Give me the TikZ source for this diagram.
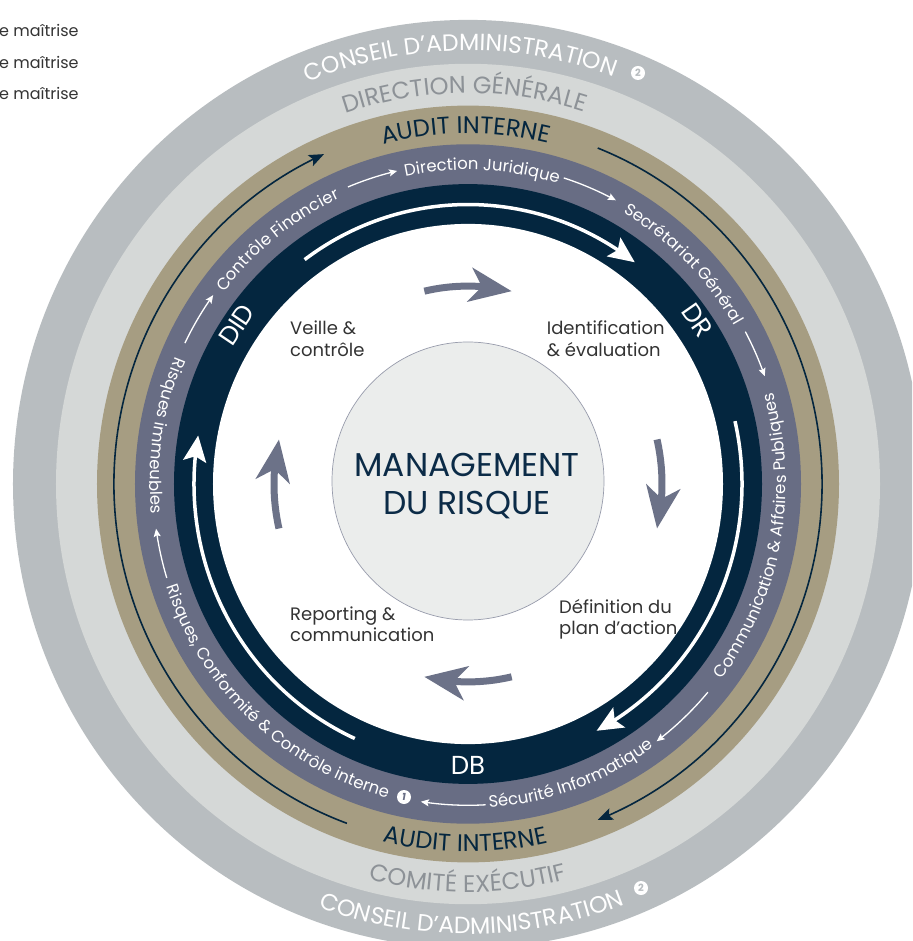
\documentclass[tikz,border=0pt]{standalone}
\usepackage{fontspec}
\setmainfont{Poppins}
\usetikzlibrary{arrows.meta,bending,decorations.text}
\definecolor{consgray}{HTML}{B8BDC0}
\definecolor{dggray}{HTML}{D5D8D7}
\definecolor{tanband}{HTML}{A69D82}
\definecolor{lav}{HTML}{686D84}
\definecolor{navy}{HTML}{04263F}
\definecolor{cfill}{HTML}{EBEDEC}
\definecolor{cyc}{HTML}{6C7288}
\definecolor{dgtext}{HTML}{8D9297}
\definecolor{tdark}{HTML}{333333}
\definecolor{ctext}{HTML}{0B2B47}
\newcommand\cwtext[4]{%
  \pgfmathsetmacro\rtA{#1+75}\pgfmathsetmacro\rtB{#1-75}\pgfmathsetmacro\rtY{1.02*#2}%
  \path[decorate,decoration={text along path,text align=center,text={|#3|#4}}]
    (\rtA:#2 and \rtY) arc[start angle=\rtA,end angle=\rtB,x radius=#2,y radius=\rtY];}
\newcommand\ccwtext[4]{%
  \pgfmathsetmacro\rtA{#1+75}\pgfmathsetmacro\rtB{#1-75}\pgfmathsetmacro\rtY{1.02*#2}%
  \path[decorate,decoration={text along path,text align=center,text={|#3|#4}}]
    (\rtB:#2 and \rtY) arc[start angle=\rtB,end angle=\rtA,x radius=#2,y radius=\rtY];}
\newcommand\bandfont{\fontsize{24}{24}\selectfont}
\newcommand\consfont{\fontsize{23.5}{23.5}\selectfont\color{white}}
\newcommand\deptfont{\fontsize{16.5}{16.5}\selectfont\color{white}}
\begin{document}
\begin{tikzpicture}[x=1pt,y=1pt,
  navyarc/.style={draw=navy,line width=1.6pt,-{Stealth[length=15pt,width=12pt,inset=3pt]}},
  whitearc/.style={draw=white,line width=3.5pt,-{Stealth[length=26pt,width=23pt,inset=5pt]}},
  smallarr/.style={draw=white,line width=1.3pt,-{Stealth[length=8pt,width=7pt,inset=1.5pt]}},
  cyclearr/.style={draw=cyc,line width=7pt,-{Stealth[length=42pt,width=34pt,inset=12pt]}},
  lbl/.style={font=\fontsize{18}{21.7}\selectfont,text=tdark,align=left,inner sep=0pt,anchor=base west},
  numc/.style={circle,fill=white,inner sep=0pt,minimum size=14pt,font=\fontsize{10}{10}\selectfont\bfseries},
  ringlbl/.style={text=white,font=\fontsize{26}{26}\selectfont,inner sep=0pt}]
\useasboundingbox (-468,-457) rectangle (444,484);
\begin{scope}
\clip (-468,-457) rectangle (444,484);
% rings
\fill[consgray] (0,0) circle[x radius=455,y radius=464.1];
\fill[dggray] (0,0) circle[x radius=412,y radius=420.2];
\fill[tanband] (0,0) circle[x radius=371,y radius=378.4];
\fill[lav] (0,0) circle[x radius=333,y radius=339.7];
\fill[navy] (0,0) circle[x radius=294,y radius=299.9];
\fill[white] (0,0) circle[x radius=255,y radius=260.1];
% legend
\node[font=\fontsize{16}{16}\selectfont,text=tdark,anchor=base west,inner sep=0pt] (lg1) at (-469,447.5) {e maîtrise};
\node[font=\fontsize{16}{16}\selectfont,text=tdark,anchor=base west,inner sep=0pt] (lg2) at (-469,415.5) {e maîtrise};
\node[font=\fontsize{16}{16}\selectfont,text=tdark,anchor=base west,inner sep=0pt] (lg3) at (-469,384) {e maîtrise};
% band texts
\cwtext{91}{425}{\consfont}{CONSEIL D’ADMINISTRATION}
\ccwtext{270.5}{441}{\consfont}{CONSEIL D’ADMINISTRATION}
\cwtext{90.5}{383}{\bandfont\color{dgtext}}{DIRECTION GÉNÉRALE}
\ccwtext{270}{400}{\bandfont\color{dgtext}}{COMITÉ EXÉCUTIF}
\cwtext{90.4}{343.5}{\bandfont\color{navy}}{AUDIT INTERNE}
\ccwtext{269.6}{360.5}{\bandfont\color{navy}}{AUDIT INTERNE}
\node[numc,text=consgray] (n2a) at (170,411) {2};
\node[numc,text=consgray] (n2b) at (173,-404) {2};
% thin navy arcs in audit band
\coordinate (na1) at (68.5:354 and 361.1);
\coordinate (na2) at (250:354 and 361.1);
\draw[navyarc] (na1) arc[start angle=68.5,end angle=-68.5,x radius=354,y radius=361.1];
\draw[navyarc] (na2) arc[start angle=250,end angle=114,x radius=354,y radius=361.1];
% department texts
\cwtext{128}{308}{\deptfont}{Contrôle Financier}
\cwtext{87.4}{308}{\deptfont}{Direction Juridique}
\cwtext{45.5}{308}{\deptfont}{Secrétariat Général}
\ccwtext{-10.5}{318}{\deptfont}{Communication {\&} Affaires Publiques}
\ccwtext{-70.5}{318}{\deptfont}{Sécurité Informatique}
\ccwtext{227.3}{318}{\deptfont}{Risques, Conformité {\&} Contrôle interne}
\ccwtext{171}{318}{\deptfont}{Risques immeubles}
\node[numc,text=lav,font=\fontsize{10}{10}\selectfont\bfseries\itshape] (n1) at (-64,-313) {1};
% small arrows
\coordinate (s1) at (197:315 and 321.3);
\coordinate (s2) at (154:315 and 321.3);
\coordinate (s3) at (112.4:315 and 321.3);
\coordinate (s4) at (72.3:315 and 321.3);
\coordinate (s5) at (28.3:315 and 321.3);
\coordinate (s6) at (-40.4:315 and 321.3);
\coordinate (s7) at (-86.8:315 and 321.3);
\draw[smallarr] (s1) arc[start angle=197,end angle=188,x radius=315,y radius=321.3];
\draw[smallarr] (s2) arc[start angle=154,end angle=144,x radius=315,y radius=321.3];
\draw[smallarr] (s3) arc[start angle=112.4,end angle=103,x radius=315,y radius=321.3];
\draw[smallarr] (s4) arc[start angle=72.3,end angle=62,x radius=315,y radius=321.3];
\draw[smallarr] (s5) arc[start angle=28.3,end angle=19.6,x radius=315,y radius=321.3];
\draw[smallarr] (s6) arc[start angle=-40.4,end angle=-53.2,x radius=315,y radius=321.3];
\draw[smallarr] (s7) arc[start angle=-86.8,end angle=-98.6,x radius=315,y radius=321.3];
% navy band labels and white arcs
\node[ringlbl,rotate=56] (did) at (146:279 and 284.6) {DID};
\node[ringlbl,rotate=-55] (dr) at (35:280 and 285.6) {DR};
\node[ringlbl] (db) at (270:276 and 281.5) {DB};
\coordinate (w1) at (126.6:274 and 279.5);
\coordinate (w2) at (13:274 and 279.5);
\coordinate (w3) at (245.6:274 and 279.5);
\draw[whitearc] (w1) arc[start angle=126.6,end angle=52.5,x radius=274,y radius=279.5];
\draw[whitearc] (w2) arc[start angle=13,end angle=-62,x radius=274,y radius=279.5];
\draw[whitearc] (w3) arc[start angle=245.6,end angle=170,x radius=274,y radius=279.5];
% cycle arrows
\coordinate (c1) at (103:194 and 197.9);
\coordinate (c2) at (13:194 and 197.9);
\coordinate (c3) at (-77:194 and 197.9);
\coordinate (c4) at (193:194 and 197.9);
\draw[cyclearr] (c1) arc[start angle=103,end angle=77,x radius=194,y radius=197.9];
\draw[cyclearr] (c2) arc[start angle=13,end angle=-13,x radius=194,y radius=197.9];
\draw[cyclearr] (c3) arc[start angle=-77,end angle=-103,x radius=194,y radius=197.9];
\draw[cyclearr] (c4) arc[start angle=193,end angle=167,x radius=194,y radius=197.9];
% center
\draw[draw=cyc!70,line width=0.7pt,fill=cfill] (0,3) circle[x radius=136,y radius=139];
\node[text=ctext,font=\fontsize{33}{38.3}\selectfont,align=center,inner sep=0pt,anchor=base] (mgmt) at (-1,-31) {MANAGEMENT\\DU RISQUE};
% cycle labels (base anchor = last line)
\node[lbl] (veille) at (-178,127.3) {Veille \&\\contrôle};
\node[lbl] (ident) at (78.7,127.3) {Identification\\\& évaluation};
\node[lbl] (defin) at (91,-150.7) {Définition du\\plan d’action};
\node[lbl] (report) at (-178,-157.7) {Reporting \&\\communication};
\end{scope}
\end{tikzpicture}
\end{document}
